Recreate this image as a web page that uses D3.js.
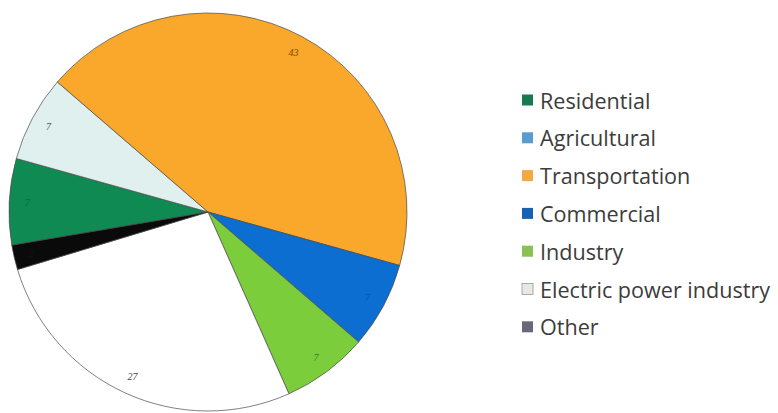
<!DOCTYPE html>
<html><head><meta charset="utf-8">
<script src="https://cdn.jsdelivr.net/npm/d3@7"></script>
<style>body{margin:0;background:#fff}svg{display:block}</style>
</head><body>
<script>
const categories = ["Residential","Agricultural","Transportation","Commercial","Industry","Electric power industry","Other"];
const values = [7,7,43,7,7,27,2];
const sliceColors = ["#0e8a52","#dff0ee","#f9a82b","#0b6ed0","#7ccd3c","#ffffff","#0a0a0a"];
const legendColors = ["#177a52","#5a9bd0","#f2a845","#1662b5","#8cc152","#e6e8e2","#6a6878"];
const labelColors = ["#0b6a40","#556","#7a4a00","#0a55a5","#3c7a20","#445","#111"];

const W=778,H=413;
const svg=d3.select("body").append("svg").attr("width",W).attr("height",H);
const cx=208,cy=212,R=199;
const startA = -99.6*Math.PI/180;
const pie=d3.pie().sort(null).value(d=>d).startAngle(startA).endAngle(startA+2*Math.PI);
const arcs=pie(values);
const arc=d3.arc().innerRadius(0).outerRadius(R);
const g=svg.append("g").attr("transform",`translate(${cx},${cy})`);
g.selectAll("path").data(arcs).join("path")
  .attr("d",arc).attr("fill",(d,i)=>sliceColors[i])
  .attr("stroke","#4a4a4a").attr("stroke-width",0.7);
const lab=d3.arc().innerRadius(R*0.91).outerRadius(R*0.91);
g.selectAll("text").data(arcs).join("text")
  .attr("transform",d=>`translate(${lab.centroid(d)})`)
  .attr("text-anchor","middle").attr("dominant-baseline","central")
  .attr("font-family","Liberation Serif, serif").attr("font-style","italic")
  .attr("font-size",10).attr("fill",(d,i)=>labelColors[i])
  .text(d=>d.data);

const leg=svg.append("g");
const y0=100, dy=37.8;
categories.forEach((c,i)=>{
  const y=y0+i*dy;
  leg.append("rect").attr("x",522).attr("y",y-5.5).attr("width",11).attr("height",11)
    .attr("fill",legendColors[i]).attr("stroke",i===5?"#999":"none").attr("stroke-width",0.8);
  leg.append("text").attr("x",540).attr("y",y).attr("dominant-baseline","central")
    .attr("font-family","Open Sans, sans-serif").attr("font-size",21.6).attr("fill","#3c3c3c")
    .text(c);
});
</script>
</body></html>
